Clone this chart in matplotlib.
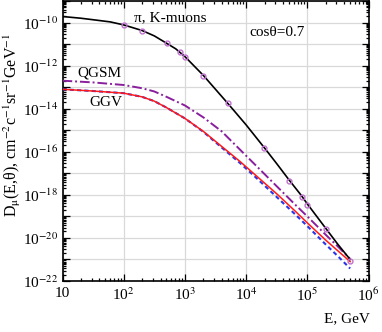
import numpy as np
import matplotlib
matplotlib.use('agg')
import matplotlib.pyplot as plt
from matplotlib.ticker import LogLocator, FixedLocator, NullFormatter

plt.rcParams['font.family'] = ['Liberation Serif', 'DejaVu Serif']
plt.rcParams['mathtext.fontset'] = 'stix'

# log10(E / GeV) grid
log_e = [1.0, 1.3, 1.5, 1.78, 2.0, 2.3, 2.5, 2.7, 2.85, 3.0, 3.3, 3.5, 3.7,
         4.0, 4.3, 4.5, 4.7, 4.9, 5.0, 5.3, 5.5, 5.7]
# pi, K-muons (black), log10 D
log_pik = [-9.72, -9.80, -9.87, -9.97, -10.11, -10.37, -10.62, -10.96, -11.22,
           -11.58, -12.45, -13.10, -13.75, -14.75, -15.82, -16.55, -17.30,
           -18.02, -18.42, -19.55, -20.30, -21.00]

# calculated points on the pi,K curve
log_e_pts = [2.0, 2.3, 2.7, 2.92, 3.0, 3.3, 3.7, 4.3, 4.7, 4.92, 5.0, 5.3, 5.7]
log_pik_pts = [-10.11, -10.37, -10.96, -11.39, -11.60, -12.48, -13.75, -15.82,
               -17.35, -18.09, -18.45, -19.60, -21.05]

log_e2 = [1.0, 1.5, 2.0, 2.3, 2.5, 2.7, 3.0, 3.3, 3.6, 3.9, 4.2, 4.5, 4.8,
          5.0, 5.3, 5.5, 5.7]
log_qgsm = [-12.70, -12.78, -12.90, -13.05, -13.20, -13.45, -13.85, -14.40,
            -15.05, -15.90, -16.75, -17.60, -18.45, -19.00, -19.85, -20.40,
            -20.97]
log_ggv = [-13.10, -13.18, -13.28, -13.45, -13.65, -13.95, -14.45, -15.05,
           -15.75, -16.45, -17.20, -17.95, -18.75, -19.30, -20.10, -20.60,
           -21.10]
log_ggv2 = [-13.10, -13.18, -13.28, -13.45, -13.65, -13.95, -14.45, -15.07,
            -15.80, -16.52, -17.30, -18.10, -18.90, -19.45, -20.30, -20.85,
            -21.42]

e = 10.0 ** np.array(log_e)
e2 = 10.0 ** np.array(log_e2)

fig = plt.figure(figsize=(3.82, 3.32), dpi=100)
ax = fig.add_axes([62.5 / 382, 1 - 281 / 332, 306 / 382, 280 / 332])

ax.plot(e2, 10.0 ** np.array(log_ggv2), color='#2a35e8', lw=1.5,
        ls=(0, (2, 1.5)), zorder=3)
ax.plot(e2, 10.0 ** np.array(log_ggv), color='#ff1a1a', lw=1.1, zorder=4)
ax.plot(e2, 10.0 ** np.array(log_qgsm), color='#8a1f9e', lw=1.4,
        ls=(0, (5, 1.5, 1, 1.5)), zorder=4)
ax.plot(e, 10.0 ** np.array(log_pik), color='black', lw=1.2, zorder=5)
ax.plot(10.0 ** np.array(log_e_pts), 10.0 ** np.array(log_pik_pts), 'o',
        ms=3.5, mfc='none', mec='#c070d0', mew=1.0, zorder=6)

ax.set_xscale('log')
ax.set_yscale('log')
ax.set_xlim(10, 1e6)
ax.set_ylim(1e-22, 1e-9)

ax.xaxis.set_major_locator(FixedLocator([10.0 ** k for k in range(1, 7)]))
ax.set_xticklabels(['10'] + [r'10$^{%d}$' % k for k in range(2, 7)])
ax.xaxis.set_minor_locator(LogLocator(base=10, subs=np.arange(2, 10), numticks=20))
ax.xaxis.set_minor_formatter(NullFormatter())

ax.yaxis.set_major_locator(FixedLocator([10.0 ** k for k in range(-22, -8)]))
ax.set_yticklabels([r'10$^{%d}$' % k if k % 2 == 0 else '' for k in range(-22, -8)])
ax.yaxis.set_minor_locator(LogLocator(base=10, subs=np.arange(2, 10), numticks=30))
ax.yaxis.set_minor_formatter(NullFormatter())

ax.tick_params(which='both', direction='in', top=True, right=True,
               labelsize=11, width=0.9, pad=3)
ax.tick_params(axis='x', pad=4)
ax.tick_params(which='major', length=5)
ax.tick_params(which='minor', length=2.5)
ax.grid(True, which='major', color='#d9d9d9', lw=0.9)
ax.set_axisbelow(True)
for s in ax.spines.values():
    s.set_linewidth(1.2)

ax.text(150, 10 ** -9.78, 'π, K-muons', fontsize=11, ha='left', va='center')
ax.text(1.12e4, 10 ** -10.48, 'cosθ=0.7', fontsize=11, ha='left', va='center')
ax.text(17.3, 10 ** -12.32, 'QGSM', fontsize=11, ha='left', va='center')
ax.text(27, 10 ** -13.71, 'GGV', fontsize=11, ha='left', va='center')

fig.text(370 / 382, 1 - 319 / 332, 'E, GeV', fontsize=11, ha='right', va='center')
fig.text(12 / 382, 1 - 125 / 332,
         r'D$_\mathrm{\mu}$(E,θ), cm$^{-2}$c$^{-1}$sr$^{-1}$GeV$^{-1}$',
         fontsize=11.5, rotation=90, ha='center', va='center')

fig.savefig('out.png', dpi=100)
